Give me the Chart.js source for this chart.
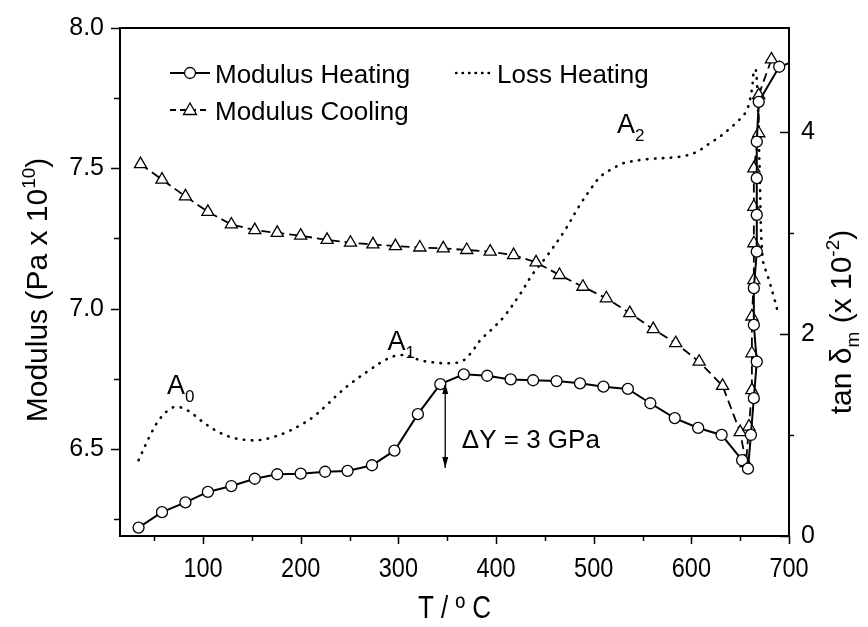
<!DOCTYPE html>
<html>
<head>
<meta charset="utf-8">
<script src="https://cdn.jsdelivr.net/npm/chart.js@4.4.1/dist/chart.umd.min.js"></script>
<style>
  html, body { margin: 0; padding: 0; background: #fff; }
  #wrap { width: 868px; height: 627px; }
</style>
</head>
<body>
<div id="wrap"><canvas id="c" width="868" height="627"></canvas></div>
<script>
// Modulus on heating (T in deg C, modulus in 10^10 Pa), open circles
var heatT = [34, 58, 82, 105, 129, 153, 176, 200, 225, 248, 273, 296, 320, 343, 367, 391, 415, 438, 462, 486, 510, 535, 558, 583, 607, 631, 652, 658, 661, 664, 667, 664, 664, 667, 667, 667, 667, 669, 690, 700];
var heatM = [6.220, 6.275, 6.310, 6.347, 6.368, 6.394, 6.410, 6.412, 6.419, 6.422, 6.442, 6.494, 6.624, 6.731, 6.766, 6.761, 6.748, 6.745, 6.742, 6.734, 6.722, 6.714, 6.663, 6.610, 6.575, 6.550, 6.460, 6.430, 6.550, 6.681, 6.811, 6.942, 7.073, 7.203, 7.334, 7.465, 7.595, 7.737, 7.862, 7.875];

// Modulus on cooling, open triangles (listed in drawing order)
var coolT = [36, 58, 82, 105, 129, 153, 176, 200, 227, 251, 274, 297, 322, 346, 370, 394, 418, 441, 465, 489, 513, 537, 561, 584, 608, 632, 650, 656, 659, 662, 662, 662, 664, 664, 664, 664, 669, 669, 682];
var coolM = [7.515, 7.460, 7.400, 7.345, 7.300, 7.280, 7.270, 7.260, 7.245, 7.235, 7.229, 7.223, 7.218, 7.215, 7.209, 7.203, 7.191, 7.165, 7.120, 7.078, 7.037, 6.984, 6.927, 6.877, 6.811, 6.725, 6.560, 6.450, 6.580, 6.710, 6.841, 6.972, 7.102, 7.233, 7.363, 7.500, 7.625, 7.761, 7.888];

// Loss tangent on heating (x 10^-2), right axis
var lossT = [34, 45, 55, 65, 73, 85, 97, 112, 128, 145, 158, 172, 186, 200, 213, 227, 240, 254, 270, 286, 300, 312, 322, 335, 350, 365, 375, 384, 396, 408, 425, 438, 452, 470, 486, 498, 507, 520, 530, 554, 588, 605, 616, 630, 640, 650, 657, 662, 664, 666, 668, 670, 673, 679, 685, 689];
var lossTan = [0.75, 0.98, 1.15, 1.25, 1.28, 1.24, 1.15, 1.05, 0.98, 0.95, 0.95, 0.98, 1.03, 1.10, 1.18, 1.30, 1.42, 1.53, 1.64, 1.74, 1.79, 1.78, 1.74, 1.72, 1.71, 1.73, 1.82, 1.94, 2.05, 2.17, 2.40, 2.60, 2.77, 3.02, 3.28, 3.45, 3.56, 3.64, 3.69, 3.73, 3.755, 3.80, 3.87, 3.96, 4.04, 4.13, 4.22, 4.42, 4.60, 4.62, 4.30, 3.60, 2.75, 2.55, 2.35, 2.20];

// axis ticks
var xTicks = [50, 100, 150, 200, 250, 300, 350, 400, 450, 500, 550, 600, 650, 700];
var yTicks = [6.25, 6.5, 6.75, 7.0, 7.25, 7.5, 7.75, 8.0];
var y1Ticks = [0, 1, 2, 3, 4];

var FONT = '"Liberation Sans", Arial, Helvetica, sans-serif';

function pts(xs, ys) {
  return xs.map(function (x, i) { return { x: x, y: ys[i] }; });
}

function setTicks(list) {
  return function (scale) { scale.ticks = list.map(function (v) { return { value: v }; }); };
}

// draws a string made of runs with their own size and vertical shift
function richText(ctx, runs, x, y, align) {
  var w = 0;
  runs.forEach(function (r) { ctx.font = r.size + 'px ' + FONT; w += ctx.measureText(r.t).width; });
  var cx = align === 'center' ? x - w / 2 : x;
  ctx.textAlign = 'left';
  ctx.textBaseline = 'alphabetic';
  runs.forEach(function (r) {
    ctx.font = r.size + 'px ' + FONT;
    ctx.fillText(r.t, cx, y + (r.dy || 0));
    cx += ctx.measureText(r.t).width;
  });
}

// horizontally condensed centred text (the bottom axis uses a narrow face)
function narrowText(ctx, text, x, y, size) {
  ctx.save();
  ctx.translate(x, y);
  ctx.scale(0.84, 1);
  ctx.font = size + 'px ' + FONT;
  ctx.textAlign = 'center';
  ctx.textBaseline = 'alphabetic';
  ctx.fillText(text, 0, 0);
  ctx.restore();
}

var decorations = {
  id: 'decorations',
  afterDraw: function (chart) {
    var c = chart.ctx, a = chart.chartArea;
    var sx = chart.scales.x, sy = chart.scales.y, sr = chart.scales.y1;
    c.save();
    c.strokeStyle = '#000';
    c.fillStyle = '#000';
    c.lineWidth = 2;

    // top frame
    c.beginPath(); c.moveTo(a.left - 1, a.top); c.lineTo(a.right + 1, a.top); c.stroke();

    // tick marks
    c.lineWidth = 1.5;
    c.beginPath();
    xTicks.forEach(function (v) {
      var px = Math.round(sx.getPixelForValue(v)) + 0.5;
      var len = v % 100 === 0 ? 8 : 5;
      c.moveTo(px, a.bottom); c.lineTo(px, a.bottom + len);
    });
    yTicks.forEach(function (v) {
      var py = Math.round(sy.getPixelForValue(v)) + 0.5;
      var len = (v * 2) % 1 === 0 ? 9 : 6;
      c.moveTo(a.left, py); c.lineTo(a.left - len, py);
    });
    y1Ticks.forEach(function (v) {
      var py = Math.round(sr.getPixelForValue(v)) + 0.5;
      if (v % 2 === 0) { c.moveTo(a.right, py); c.lineTo(a.right - 9, py); }
      else { c.moveTo(a.right, py); c.lineTo(a.right + 5, py); }
    });
    c.stroke();

    // bottom tick labels
    xTicks.forEach(function (v) {
      if (v % 100 === 0) narrowText(c, String(v), sx.getPixelForValue(v), a.bottom + 41, 28);
    });

    // peak labels on the loss curve
    function peak(sub, t, v) {
      var px = sx.getPixelForValue(t), py = sr.getPixelForValue(v);
      richText(c, [{ t: 'A', size: 27 }, { t: sub, size: 17, dy: 8 }], px, py);
    }
    peak('0', 63, 1.41);
    peak('1', 289, 1.84);
    peak('2', 524, 3.99);

    // modulus jump marker
    var ax = sx.getPixelForValue(348);
    var aTop = sy.getPixelForValue(6.735), aBot = sy.getPixelForValue(6.432);
    c.lineWidth = 1.3;
    c.beginPath(); c.moveTo(ax, aTop + 2); c.lineTo(ax, aBot); c.stroke();
    c.beginPath();
    c.moveTo(ax, aBot); c.lineTo(ax - 3, aBot - 11); c.lineTo(ax + 3, aBot - 11); c.closePath();
    c.moveTo(ax, aTop); c.lineTo(ax - 3, aTop + 11); c.lineTo(ax + 3, aTop + 11); c.closePath();
    c.fill();
    richText(c, [{ t: '\u0394Y = 3 GPa', size: 26 }], sx.getPixelForValue(365), sy.getPixelForValue(6.505));

    // legend
    var lx = a.left + 50, ly1 = a.top + 45, ly2 = a.top + 82;
    c.lineWidth = 1.8;
    c.beginPath(); c.moveTo(lx, ly1); c.lineTo(lx + 40, ly1); c.stroke();
    c.beginPath(); c.arc(lx + 20, ly1, 5.5, 0, Math.PI * 2);
    c.fillStyle = '#fff'; c.fill(); c.lineWidth = 1.3; c.stroke();
    c.fillStyle = '#000';
    c.lineWidth = 1.8;
    c.setLineDash([6, 4]);
    c.beginPath(); c.moveTo(lx, ly2); c.lineTo(lx + 40, ly2); c.stroke();
    c.setLineDash([]);
    c.beginPath();
    c.moveTo(lx + 20, ly2 - 7); c.lineTo(lx + 26.5, ly2 + 4.5); c.lineTo(lx + 13.5, ly2 + 4.5); c.closePath();
    c.fillStyle = '#fff'; c.fill(); c.lineWidth = 1.3; c.stroke();
    c.fillStyle = '#000';
    c.lineWidth = 2.4; c.lineCap = 'round';
    c.setLineDash([0.5, 6]);
    c.beginPath(); c.moveTo(a.left + 336, ly1); c.lineTo(a.left + 369, ly1); c.stroke();
    c.setLineDash([]); c.lineCap = 'butt';
    richText(c, [{ t: 'Modulus Heating', size: 26 }], lx + 45, ly1 + 10);
    richText(c, [{ t: 'Modulus Cooling', size: 26 }], lx + 45, ly2 + 10);
    richText(c, [{ t: 'Loss Heating', size: 26 }], a.left + 377, ly1 + 10);

    // axis titles
    c.save();
    c.translate(36, (a.top + a.bottom) / 2 + 8);
    c.rotate(-Math.PI / 2);
    richText(c, [{ t: 'Modulus (Pa x 10', size: 30 }, { t: '10', size: 19, dy: -12 }, { t: ')', size: 30 }], 0, 11, 'center');
    c.restore();

    c.save();
    c.translate(840, 322);
    c.rotate(-Math.PI / 2);
    richText(c, [{ t: 'tan \u03B4', size: 30 }, { t: 'm', size: 19, dy: 8 }, { t: ' (x 10', size: 30 }, { t: '-2', size: 19, dy: -12 }, { t: ')', size: 30 }], 0, 11, 'center');
    c.restore();

    narrowText(c, 'T / \u00BA C', (a.left + a.right) / 2, 618, 31);
    c.restore();
  }
};

var tickFont = { family: FONT, size: 25 };

new Chart(document.getElementById('c').getContext('2d'), {
  type: 'scatter',
  data: {
    datasets: [
      {
        label: 'Modulus Heating',
        data: pts(heatT, heatM),
        yAxisID: 'y',
        showLine: true,
        borderColor: '#000',
        borderWidth: 2,
        pointStyle: 'circle',
        pointRadius: heatT.map(function (t) { return t >= 700 ? 0 : 5.5; }),
        pointBackgroundColor: '#fff',
        pointBorderColor: '#000',
        pointBorderWidth: 1.3,
        tension: 0
      },
      {
        label: 'Modulus Cooling',
        data: pts(coolT, coolM),
        yAxisID: 'y',
        showLine: true,
        borderColor: '#000',
        borderWidth: 1.8,
        borderDash: [9, 5],
        pointStyle: 'triangle',
        pointRadius: 7,
        pointBackgroundColor: '#fff',
        pointBorderColor: '#000',
        pointBorderWidth: 1.3,
        tension: 0
      },
      {
        label: 'Loss Heating',
        data: pts(lossT, lossTan),
        yAxisID: 'y1',
        showLine: true,
        borderColor: '#000',
        borderWidth: 2.6,
        borderCapStyle: 'round',
        borderDash: [0.5, 7.5],
        pointRadius: 0,
        tension: 0.35
      }
    ]
  },
  options: {
    responsive: false,
    animation: false,
    devicePixelRatio: 1,
    layout: { padding: { top: 28, left: 0, right: 0, bottom: 0 } },
    plugins: { legend: { display: false }, tooltip: { enabled: false } },
    scales: {
      x: {
        type: 'linear', min: 15, max: 700,
        afterBuildTicks: setTicks(xTicks),
        afterFit: function (s) { s.height = 91; },
        grid: { drawOnChartArea: false, drawTicks: false },
        border: { display: true, color: '#000', width: 2 },
        ticks: { display: false }
      },
      y: {
        type: 'linear', position: 'left', min: 6.19, max: 8.0,
        afterBuildTicks: setTicks(yTicks),
        afterFit: function (s) { s.width = 120; },
        grid: { drawOnChartArea: false, drawTicks: true, tickLength: 8, color: 'rgba(0,0,0,0)' },
        border: { display: true, color: '#000', width: 2 },
        ticks: {
          color: '#000', padding: 8, autoSkip: false, font: tickFont,
          callback: function (v) { return (v * 2) % 1 === 0 ? v.toFixed(1) : ''; }
        }
      },
      y1: {
        type: 'linear', position: 'right', min: 0, max: 5.03,
        afterBuildTicks: setTicks(y1Ticks),
        afterFit: function (s) { s.width = 79; },
        grid: { drawOnChartArea: false, drawTicks: true, tickLength: 8, color: 'rgba(0,0,0,0)' },
        border: { display: true, color: '#000', width: 2 },
        ticks: {
          color: '#000', padding: 4, autoSkip: false, font: tickFont,
          callback: function (v) { return v % 2 === 0 ? String(v) : ''; }
        }
      }
    }
  },
  plugins: [decorations]
});
</script>
</body>
</html>
